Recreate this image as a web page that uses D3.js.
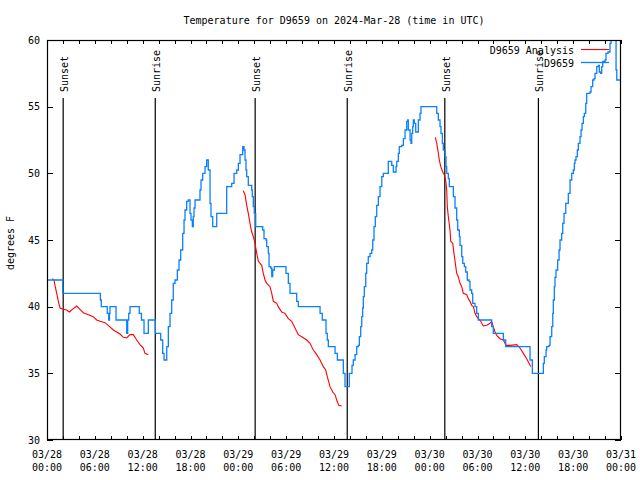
<!DOCTYPE html>
<html>
<head>
<meta charset="utf-8">
<script src="https://cdn.jsdelivr.net/npm/d3@7"></script>
<style>
  html, body { margin: 0; padding: 0; background: #fff; }
  svg { display: block; }
  text { font-family: "DejaVu Sans Mono", "Liberation Mono", monospace; font-size: 10px; fill: #000; }
</style>
</head>
<body>
<svg id="chart" width="640" height="480"></svg>
<script>
// ---- Data (hours after 2024-03-28 00:00 UTC) ----
const obsHours = [0.1, 1.97, 6.69, 6.81, 7.56, 7.74, 7.84, 7.90, 8.66, 10.0, 10.12, 10.25, 10.41, 11.58, 11.85, 12.17, 12.71, 13.59,
  14.26, 14.51, 14.68, 15.02, 15.22, 15.43, 15.64, 15.84, 16.06, 16.35, 16.56, 16.77, 17.02, 17.19, 17.31, 17.52, 17.72, 17.94,
  18.06, 18.23, 18.35, 18.44, 18.57, 19.19, 19.32, 19.53, 19.82, 20.03, 20.23, 20.45, 20.57, 20.79, 21.29, 22.54, 23.17, 23.46,
  23.80, 24.0, 24.21, 24.55, 24.71, 24.84, 24.96, 25.05, 25.25, 25.68, 25.75, 25.88, 26.0, 26.18, 27.06, 27.22, 27.47, 27.56,
  27.76, 27.85, 28.06, 28.19, 28.31, 28.51, 29.98, 30.27, 30.48, 31.32, 31.52, 34.25, 34.53, 35.0, 35.16, 35.29, 36.13, 36.42,
  37.17, 37.38, 37.92, 38.26, 38.42, 38.64, 38.85, 39.05, 39.18, 39.35, 39.48, 39.60, 39.68, 39.80, 39.98, 40.10, 40.30, 40.52,
  40.73, 40.86, 41.02, 41.18, 41.36, 41.56, 41.77, 41.99, 42.19, 42.81, 43.24, 43.44, 43.78, 43.87, 44.07, 44.19, 44.49, 44.70,
  44.91, 45.12, 45.25, 45.32, 45.54, 45.66, 45.75, 45.87, 45.95, 46.07, 46.25, 46.58, 46.79, 46.91, 48.89, 49.09, 49.30, 49.42,
  49.59, 49.71, 49.93, 50.05, 50.14, 50.34, 50.47, 50.97, 51.18, 51.39, 51.52, 51.72, 51.81, 52.02, 52.15, 52.35, 52.52, 52.72,
  52.94, 53.06, 53.27, 53.40, 53.69, 53.90, 54.10, 55.78, 55.98, 57.24, 57.54, 60.59, 60.88, 62.26, 62.38, 62.60, 62.68, 62.97,
  63.10, 63.31, 63.44, 63.51, 63.64, 63.72, 63.85, 64.06, 64.23, 64.35, 64.56, 64.69, 64.85, 65.07, 65.39, 65.61, 65.82, 66.02,
  66.15, 66.23, 66.36, 66.52, 66.65, 66.86, 66.99, 67.11, 67.28, 67.40, 67.58, 67.70, 68.11, 68.24, 68.45, 68.62, 68.74, 68.96,
  69.16, 69.28, 69.46, 69.58, 69.71, 70.0, 70.12, 70.37, 70.62, 70.75, 71.38, 71.47, 72.0];
const obsTemps = [42, 41, 40.5, 40, 39.5, 39, 39.5, 40, 39, 38, 39, 39.5, 40, 39.5, 39, 38, 39, 38,
  37.5, 36.5, 36, 37, 38.5, 39.5, 40.5, 41.75, 42, 42.75, 43.5, 44.25, 45.5, 46.5, 47.25, 47.9, 48, 47,
  46.5, 46, 46.75, 47.4, 48, 48.75, 49.5, 50, 50.5, 51, 50.25, 47.75, 46.75, 46, 47, 49, 49.25, 50,
  50.25, 50.75, 51.4, 52, 51.75, 51, 50.25, 49.75, 49.1, 48.75, 48.25, 47.5, 47, 46, 45.75, 45.1, 45, 44.5,
  44, 43, 42.9, 42.25, 42.75, 43, 42.5, 41.75, 41, 40.4, 40, 39.5, 39, 38, 37.5, 37, 36.5, 36,
  35, 34, 35, 35.6, 36, 36.4, 37, 37.1, 37.75, 38.5, 39.25, 39.9, 40.75, 41.5, 42.5, 43.25, 43.75, 44,
  44.25, 45, 46, 46.75, 47.6, 48.25, 49, 49.75, 50, 50.9, 50.6, 50.1, 50.5, 50.9, 51.5, 52, 52.1, 52.6,
  53.25, 53.9, 54, 53.25, 52.5, 52.25, 53, 53.5, 54, 53.75, 53.1, 54, 54.5, 55, 54.5, 54, 53.5, 53,
  52.25, 51.75, 51.25, 50.5, 50, 49.6, 49, 48.25, 47.4, 46.5, 45.75, 45.25, 44.6, 43.75, 43.25, 43, 42.6, 42,
  41.9, 41.25, 41, 40.25, 40, 39.5, 39, 38.5, 38, 37.5, 37, 36, 35, 35.75, 36.25, 36.75, 37, 37.1,
  37.75, 38.5, 39.5, 40.5, 41.5, 42.2, 42.75, 43.5, 44.25, 45, 45.5, 46.25, 47, 47.75, 48.5, 49.5, 50, 50.25,
  50.75, 51, 51.25, 51.75, 52.25, 52.75, 53.25, 53.75, 54.25, 54.5, 55.25, 56, 56.1, 56.5, 57, 57.1, 57.5, 58,
  58.1, 57.6, 57.5, 58, 58.4, 58.5, 59, 59.1, 59.75, 60.5, 57.75, 57, 57];

// Analysis series (null = gap between runs)
const anaHours = [0.66, 0.88, 1.0, 1.22, 1.42, 1.63, 2.04, 2.47, 2.80, 3.30, 3.73, 4.14, 4.55, 5.18, 5.81, 6.23, 6.65, 7.28,
  7.69, 8.32, 8.74, 9.16, 9.57, 10.0, 10.41, 10.83, 11.25, 11.67, 12.08, 12.29, 12.71, null,
  24.62, 24.84, 25.05, 25.25, 25.46, 25.68, 25.88, 26.09, 26.31, 26.51, 26.93, 27.13, 27.35, 27.56, 27.97, 28.19, 28.39, 28.81,
  29.01, 29.44, 29.85, 30.27, 30.69, 31.11, 31.52, 31.95, 32.58, 32.99, 33.41, 33.83, 34.25, 34.66, 34.96, 35.16, 35.50, 35.84,
  36.13, 36.34, 36.59, 36.97, null,
  48.71, 48.89, 49.09, 49.21, 49.39, 49.64, 49.84, 50.01, 50.14, 50.21, 50.34, 50.55, 50.64, 50.89, 51.05, 51.22, 51.39, 51.59,
  51.81, 52.02, 52.22, 52.65, 52.85, 53.06, 53.27, 53.48, 53.69, 53.90, 54.10, 54.32, 54.53, 54.73, 55.16, 55.57, 55.78, 55.98,
  56.20, 56.41, 56.82, 57.24, 57.58, 58.08, 58.92, 59.33, 59.75, 60.17, 60.59, 60.71];
const anaTemps = [42.1, 42, 41.6, 41, 40.4, 39.9, 39.8, 39.75, 39.6, 39.85, 40.05, 39.8, 39.55, 39.4, 39.25, 39.0, 38.9, 38.8,
  38.6, 38.25, 38.1, 37.95, 37.7, 37.65, 37.9, 37.9, 37.5, 37.15, 36.9, 36.5, 36.4, null,
  48.7, 48.4, 47.6, 47, 46.25, 45.6, 45.25, 44.75, 44.0, 43.4, 43.1, 42.5, 42, 41.75, 41.5, 41, 40.4, 40.25,
  40, 39.6, 39.5, 39.1, 38.9, 38.4, 37.9, 37.75, 37.5, 37.25, 36.75, 36.4, 36, 35.5, 35.25, 34.75, 34, 33.6,
  33.4, 33, 32.6, 32.55, null,
  52.7, 52.25, 51.5, 51, 50.5, 50.1, 49.9, 49.5, 48.75, 47.5, 46.75, 45.75, 44.9, 44.75, 44, 43.25, 42.5, 42.25,
  41.75, 41.5, 41, 40.9, 40.6, 40.4, 40.1, 40, 39.5, 39.25, 39.1, 39, 38.75, 38.55, 38.6, 38.75, 38.9, 38.5,
  38.1, 37.85, 37.6, 37.5, 37.1, 37.1, 37.15, 36.9, 36.5, 36.1, 35.6, 35.5];

const sunLabels = ["Sunset", "Sunrise", "Sunset", "Sunrise", "Sunset", "Sunrise"];
const sunHours = [2.03, 13.58, 26.11, 37.66, 49.9, 61.64];

const yTicks = [30, 35, 40, 45, 50, 55, 60];
const seriesNames = ["D9659 Analysis", "D9659"];
const seriesColors = ["#ff0000", "#0a80ff"];
const titleText = "Temperature for D9659 on 2024-Mar-28 (time in UTC)";
const yLabel = "degrees F";

// ---- Layout ----
const svg = d3.select("#chart");
const L = 47, R = 621, T = 40, B = 440;
const base = Date.UTC(2024, 2, 28, 0, 0);
const toDate = h => new Date(base + h * 3600e3);

const x = d3.scaleUtc().domain([toDate(0), toDate(72)]).range([L, R]);
const y = d3.scaleLinear().domain([30, 60]).range([B, T]);

svg.append("defs").append("clipPath").attr("id", "clip")
  .append("rect").attr("x", L).attr("y", T).attr("width", R - L).attr("height", B - T);

// Title
svg.append("text").attr("x", (L + R) / 2).attr("y", 24).attr("text-anchor", "middle").text(titleText);

// Y label
svg.append("text").attr("transform", `translate(14,${243}) rotate(-90)`).attr("text-anchor", "middle").text(yLabel);

// X ticks every 2 hours
const xTickDates = d3.range(0, 73, 2).map(toDate);
const xLabelDates = d3.range(0, 73, 6).map(toDate);
const fmtD = d3.utcFormat("%m/%d"), fmtT = d3.utcFormat("%H:%M");

const gxb = svg.append("g").attr("transform", `translate(0,${B})`)
  .call(d3.axisBottom(x).tickValues(xTickDates).tickSizeInner(-4).tickSizeOuter(0).tickFormat(""));
const gxt = svg.append("g").attr("transform", `translate(0,${T})`)
  .call(d3.axisTop(x).tickValues(xTickDates).tickSizeInner(-4).tickSizeOuter(0).tickFormat(""));
const gyl = svg.append("g").attr("transform", `translate(${L},0)`)
  .call(d3.axisLeft(y).tickValues(yTicks).tickSizeInner(-6).tickSizeOuter(0).tickFormat(""));
const gyr = svg.append("g").attr("transform", `translate(${R},0)`)
  .call(d3.axisRight(y).tickValues(yTicks).tickSizeInner(-6).tickSizeOuter(0).tickFormat(""));
[gxb, gxt, gyl, gyr].forEach(g => {
  g.select(".domain").remove();
  g.selectAll("line").attr("stroke", "#000").attr("stroke-width", 1).attr("shape-rendering", "crispEdges");
});

// X tick labels (two lines)
const xl = svg.append("g");
xLabelDates.forEach(d => {
  xl.append("text").attr("x", x(d)).attr("y", 458).attr("text-anchor", "middle").text(fmtD(d));
  xl.append("text").attr("x", x(d)).attr("y", 471).attr("text-anchor", "middle").text(fmtT(d));
});
// Y tick labels
yTicks.forEach(v => {
  svg.append("text").attr("x", 40).attr("y", y(v) + 3.5).attr("text-anchor", "end").text(v);
});

// Sunrise / sunset markers
sunHours.forEach((h, i) => {
  const sx = x(toDate(h));
  svg.append("line").attr("x1", sx).attr("x2", sx).attr("y1", 98).attr("y2", B)
    .attr("stroke", "#000").attr("stroke-width", 1.2);
  svg.append("text").attr("transform", `translate(${sx + 5},92) rotate(-90)`)
    .attr("text-anchor", "start").text(sunLabels[i]);
});

// Data lines
const plot = svg.append("g").attr("clip-path", "url(#clip)");
const obs = obsHours.map((h, i) => ({ d: toDate(h), v: obsTemps[i] }));
const ana = anaHours.map((h, i) => ({ d: h === null ? null : toDate(h), v: anaTemps[i] }));

plot.append("path").datum(ana)
  .attr("fill", "none").attr("stroke", seriesColors[0]).attr("stroke-width", 1.1)
  .attr("d", d3.line().defined(p => p.v !== null).x(p => x(p.d)).y(p => y(p.v)));

plot.append("path").datum(obs)
  .attr("fill", "none").attr("stroke", seriesColors[1]).attr("stroke-width", 1.3)
  .attr("d", d3.line().curve(d3.curveStepAfter).x(p => x(p.d)).y(p => y(p.v)));

// Border
svg.append("rect").attr("x", L + 0.5).attr("y", T + 0.5).attr("width", R - L - 1).attr("height", B - T - 1)
  .attr("fill", "none").attr("stroke", "#000").attr("stroke-width", 1.2);

// Legend
seriesNames.forEach((name, i) => {
  const ly = 49.5 + i * 13;
  svg.append("text").attr("x", 574).attr("y", ly + 4.5).attr("text-anchor", "end").text(name);
  svg.append("line").attr("x1", 581).attr("x2", 609).attr("y1", ly).attr("y2", ly)
    .attr("stroke", seriesColors[i]).attr("stroke-width", i === 0 ? 1.1 : 1.3);
});
</script>
</body>
</html>
